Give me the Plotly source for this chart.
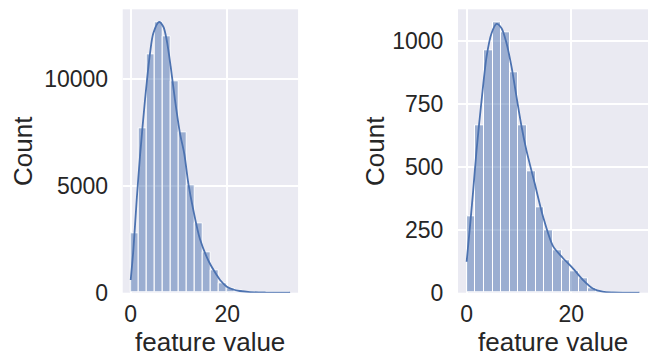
import plotly.graph_objects as go

# ---- data ----
bin_width = 1.65
n_bins = 20
bin_start = 0.0

left_counts = [2784, 7704, 11171, 12653, 11996, 9920, 7498, 5047, 3252, 1900,
               1031, 420, 206, 94, 40, 15, 6, 3, 1, 1]
right_counts = [305, 667, 965, 1074, 1037, 877, 667, 481, 340, 249,
                167, 127, 85, 56, 16, 5, 2, 1, 1, 1]

left_kde_x = [0, 0.55, 1.24, 1.93, 2.96, 4.0, 4.68, 5.86, 6.76, 7.45, 8.28, 9.17,
              10.2, 11.1, 11.93, 12.96, 14.35, 16.2, 17.8, 18.5, 19.9, 21.2, 22.6,
              24.7, 28, 33]
left_kde_y = [595, 2000, 4344, 6400, 9030, 11218, 12155, 12685, 12465, 11841, 10590,
              9030, 7470, 6500, 5127, 3876, 2500, 1450, 829, 595, 281, 150, 80, 30, 8, 0]

right_kde_x = [0, 0.63, 1.26, 1.9, 2.86, 3.81, 4.76, 5.71, 6.67, 7.62, 8.57, 9.52,
               10.5, 11.4, 13.0, 14.6, 16.5, 18.3, 20.3, 22.2, 24.1, 26, 28, 33]
right_kde_y = [123, 262, 408, 568, 766, 939, 1032, 1069, 1052, 992, 899, 780,
               660, 568, 435, 302, 185, 140, 97, 51, 17, 4, 1, 0]

left_yticks = [0, 5000, 10000]
right_yticks = [0, 250, 500, 750, 1000]
x_ticks = [0, 20]
x_title = "feature value"
y_title = "Count"

# ---- styling ----
BAR = "rgba(76,114,176,0.5)"
LINE = "#4C72B0"
BG = "#EAEAF2"
TXT = "#262626"
FONT = "Liberation Sans, Arial, sans-serif"

centers = [bin_start + bin_width * (i + 0.5) for i in range(n_bins)]

fig = go.Figure()
for counts, kx, ky, xa, ya in [
    (left_counts, left_kde_x, left_kde_y, "x", "y"),
    (right_counts, right_kde_x, right_kde_y, "x2", "y2"),
]:
    fig.add_trace(go.Bar(x=centers, y=counts, width=bin_width,
                         marker=dict(color=BAR, line=dict(color="white", width=1)),
                         xaxis=xa, yaxis=ya, showlegend=False, hoverinfo="skip"))
    fig.add_trace(go.Scatter(x=kx, y=ky, mode="lines", line=dict(color=LINE, width=1.8, shape="spline", smoothing=0.8),
                             xaxis=xa, yaxis=ya, showlegend=False))

y_dom = [0.1824, 0.974]
xcommon = dict(range=[-1.65, 34.65], tickvals=x_ticks, ticktext=[str(v) for v in x_ticks],
               showgrid=True, gridcolor="white", automargin=False,
               gridwidth=1.5, zeroline=False, showline=False, ticks="outside",
               ticklen=1, tickcolor="rgba(0,0,0,0)",
               tickfont=dict(family=FONT, size=23, color=TXT))
ycommon = dict(showgrid=True, gridcolor="white", gridwidth=1.5, zeroline=False,
               automargin=False,
               showline=False, ticks="outside", ticklen=9, tickcolor="rgba(0,0,0,0)",
               tickfont=dict(family=FONT, size=23, color=TXT), domain=y_dom)

fig.update_layout(
    width=649, height=358, autosize=False,
    margin=dict(l=0, r=0, t=0, b=0, pad=0),
    paper_bgcolor="white", plot_bgcolor=BG,
    bargap=0,
    xaxis=dict(domain=[0.1891, 0.4593], anchor="y", **xcommon),
    xaxis2=dict(domain=[0.7057, 0.9985], anchor="y2", **xcommon),
    yaxis=dict(anchor="x", range=[0, 13280], tickvals=left_yticks,
               ticktext=[str(v) for v in left_yticks], **ycommon),
    yaxis2=dict(anchor="x2", range=[0, 1127], tickvals=right_yticks,
                ticktext=[str(v) for v in right_yticks], **ycommon),
    showlegend=False,
)

ann_font = dict(family=FONT, size=26, color=TXT)
for xc, yc, txt, ang in [
    (210.4, 342, x_title, 0),
    (553.0, 342, x_title, 0),
    (23, 151, y_title, -90),
    (375, 151, y_title, -90),
]:
    fig.add_annotation(x=xc / 649, y=1 - yc / 358, xref="paper", yref="paper",
                       text=txt, showarrow=False, textangle=ang, font=ann_font,
                       xanchor="center", yanchor="middle")

fig.write_html("out.html",
               config={"responsive": False, "displayModeBar": False},
               post_script="document.body.style.margin='0';document.body.style.padding='0';")
